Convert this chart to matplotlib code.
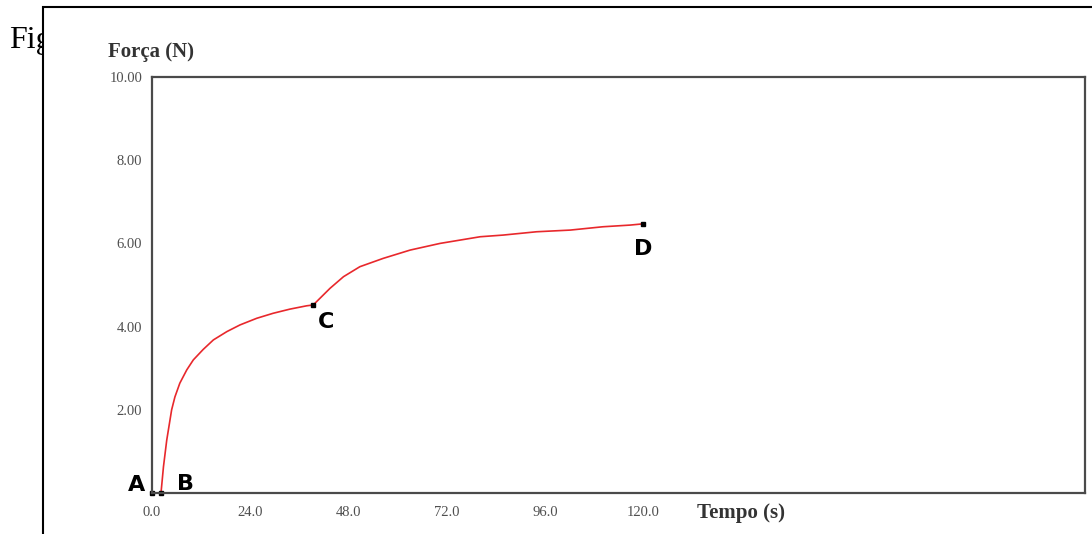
import matplotlib.pyplot as plt
from matplotlib.patches import Rectangle

# tempo (s) e força (N)
tempo = [2.2, 2.8, 3.6, 4.8, 5.6, 6.8, 8.5, 10.1, 12.5, 15.0, 18.3, 21.5, 25.6,
         29.6, 33.7, 37.8, 39.4,
         43.5, 46.8, 50.8, 56.5, 63.1, 70.4, 80.2, 85.8, 94.0, 102.2, 110.2, 116.8, 120.0]
forca = [0.0, 0.63, 1.27, 2.0, 2.31, 2.64, 2.96, 3.2, 3.45, 3.68, 3.88, 4.04, 4.2,
         4.32, 4.42, 4.50, 4.52,
         4.92, 5.2, 5.44, 5.64, 5.84, 6.0, 6.16, 6.2, 6.28, 6.32, 6.40, 6.44, 6.47]

# pontos marcados
pontos_nome = ['A', 'B', 'C', 'D']
pontos_t = [0.0, 2.2, 39.4, 120.0]
pontos_f = [0.0, 0.0, 4.52, 6.47]

xticks = [0.0, 24.0, 48.0, 72.0, 96.0, 120.0]
yticks = [2.0, 4.0, 6.0, 8.0, 10.0]

fig = plt.figure(figsize=(10.92, 5.34), dpi=100)
serif = ['Liberation Serif', 'DejaVu Serif']

# texto "Fig" parcialmente coberto pela moldura
fig.text(9 / 1092, 1 - 48 / 534, 'Fig', fontsize=23, family=serif,
         ha='left', va='baseline', zorder=-2)
fig.patches.append(Rectangle((43 / 1092, -0.1), 1.2, 1 - 7 / 534 + 0.1,
                             transform=fig.transFigure, facecolor='white',
                             edgecolor='black', linewidth=1.5, zorder=-1))

ax = fig.add_axes([152 / 1092, 41 / 534, 933 / 1092, 416 / 534])
ax.plot(tempo, forca, color='#e8282c', linewidth=1.2, solid_joinstyle='round')
ax.plot(pontos_t, pontos_f, 's', color='black', markersize=3.5, clip_on=False)

desloc = {'A': (-11, 5.5), 'B': (17.5, 6.5), 'C': (9, -12), 'D': (0, -18)}
for nome, t, f in zip(pontos_nome, pontos_t, pontos_f):
    ax.annotate(nome, (t, f), xytext=desloc[nome], textcoords='offset points',
                ha='center', va='center', fontsize=16, fontweight='bold',
                family='DejaVu Sans', color='black', annotation_clip=False)

ax.set_xlim(0, 228)
ax.set_ylim(0, 10)
ax.set_xticks(xticks)
ax.set_xticklabels([f'{v:.1f}' for v in xticks])
ax.set_yticks(yticks)
ax.set_yticklabels([f'{v:.2f}' for v in yticks])
ax.tick_params(length=0, labelsize=10.5, labelcolor='#4f4f4f')
ax.tick_params(axis='x', pad=9)
ax.tick_params(axis='y', pad=7)
for lab in ax.get_xticklabels() + ax.get_yticklabels():
    lab.set_family(serif)
for s in ax.spines.values():
    s.set_color('#4a4a4a')
    s.set_linewidth(1.6)

fig.text(108 / 1092, 1 - 52 / 534, 'Força (N)', fontsize=15, fontweight='bold',
         family=serif, color='#333333', ha='left', va='center')
fig.text(697 / 1092, 1 - 513 / 534, 'Tempo (s)', fontsize=15, fontweight='bold',
         family=serif, color='#333333', ha='left', va='center')

fig.savefig('out.png', dpi=100)
